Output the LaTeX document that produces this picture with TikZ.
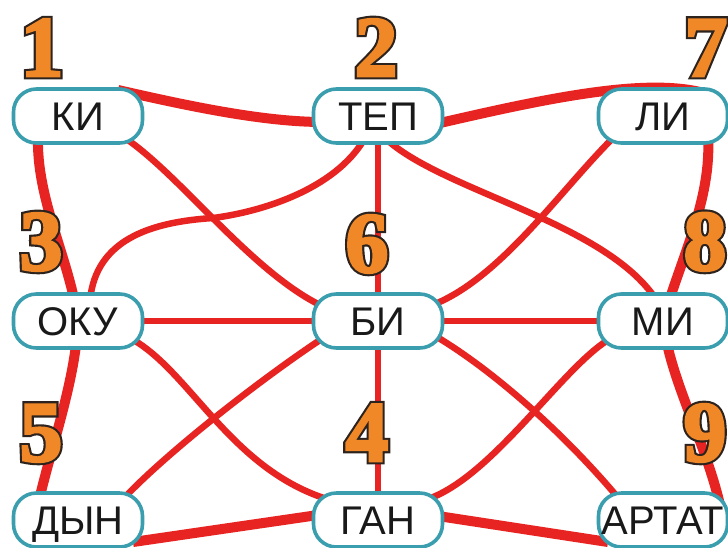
\documentclass[tikz,border=0pt]{standalone}
\usepackage{fontspec}
\setmainfont{Liberation Sans}
\newfontfamily\numdark{Liberation Serif}[UprightFont={* Bold}, FakeBold=8]
\newfontfamily\numfill{Liberation Serif}[UprightFont={* Bold}, FakeBold=3]
\definecolor{lred}{RGB}{232,36,34}
\definecolor{lteal}{RGB}{58,158,174}
\definecolor{lorange}{RGB}{240,136,40}
\definecolor{ldark}{RGB}{45,35,30}
\definecolor{ltext}{RGB}{25,25,25}
\pgfdeclarelayer{bg}
\pgfsetlayers{bg,main}
\newcommand\olnum[1]{\rlap{\numdark\textcolor{ldark}{#1}}\numfill\textcolor{lorange}{#1}}
\begin{document}
\begin{tikzpicture}[x=1pt,y=-1pt,
  word/.style={draw=lteal, line width=3.6pt, fill=white, rounded corners=23pt,
    minimum width=129pt, minimum height=54pt, inner sep=0pt,
    text height=28pt, text depth=0pt, font=\fontsize{40}{40}\selectfont, text=ltext},
  numlabel/.style={inner sep=0pt, text height=58pt, text depth=0pt,
    font=\fontsize{86}{86}\selectfont},
  thinline/.style={draw=lred, line width=6.5pt},
  thickline/.style={draw=lred, line width=10pt},
]
\useasboundingbox (0,0) rectangle (728,547);

% word nodes
\node[word] (KI)  at (78,116)  {КИ};
\node[word] (TEP) at (378,116) {ТЕП};
\node[word] (LI)  at (663,116) {ЛИ};
\node[word] (OKU) at (78,321)  {ОКУ};
\node[word] (BI)  at (378,321) {БИ};
\node[word] (MI)  at (663,321) {МИ};
\node[word] (DYN) at (78,520)  {ДЫН};
\node[word] (GAN) at (378,520) {ГАН};
\node[word] (ART) at (663,520) {АРТАТ};

% connectors
\begin{pgfonlayer}{bg}
\fill[white] (0,0) rectangle (728,547);
% outer thick lines
\draw[thickline] ([shift={(40,-26)}]KI.center) .. controls +(62,14) and +(-63,0) .. ([shift={(-55,6)}]TEP.center);
\draw[thickline] ([shift={(62,7)}]TEP.center) .. controls +(100,-23) and +(-60,-14) .. ([shift={(37,-24)}]LI.center);
\draw[thickline] ([shift={(-40,20)}]KI.center) .. controls +(-2,64) and +(-8,-61) .. (OKU.center);
\draw[thickline] (OKU.center) .. controls +(-2,59) and +(12,-55) .. ([shift={(-40,-15)}]DYN.center);
\draw[thickline] ([shift={(45,20)}]LI.center) .. controls +(4,64) and +(17,-61) .. (MI.center);
\draw[thickline] (MI.center) .. controls +(7,59) and +(-15,-65) .. ([shift={(57,-15)}]ART.center);
\draw[thickline] ([shift={(55,22)}]DYN.center) -- ([shift={(-60,-5)}]GAN.center);
\draw[thickline] ([shift={(60,-4)}]GAN.center) -- ([shift={(-55,22)}]ART.center);
% inner lines
\draw[thinline] ([shift={(47,22)}]KI.center) .. controls +(55,37) and +(-70,-35) .. ([shift={(-58,-16)}]BI.center);
\draw[thinline] ([shift={(-13,22)}]TEP.center) .. controls +(-30,52) and +(47,-6) .. (213,218)
   .. controls +(-63,4) and +(6,-60) .. ([shift={(12,-21)}]OKU.center);
\draw[thinline] (TEP.center) -- (BI.center);
\draw[thinline] ([shift={(7,22)}]TEP.center) .. controls +(55,52) and +(-55,-75) .. ([shift={(-10,-26)}]MI.center);
\draw[thinline] ([shift={(-48,20)}]LI.center) .. controls +(-55,54) and +(70,-26) .. ([shift={(52,-15)}]BI.center);
\draw[thinline] (OKU.center) -- (BI.center);
\draw[thinline] (BI.center) -- (MI.center);
\draw[thinline] ([shift={(52,17)}]OKU.center) .. controls +(60,32) and +(-100,-30) .. ([shift={(-48,-20)}]GAN.center);
\draw[thinline] ([shift={(-58,19)}]BI.center) .. controls +(-60,40) and +(45,-47) .. ([shift={(47,-23)}]DYN.center);
\draw[thinline] (BI.center) -- (GAN.center);
\draw[thinline] ([shift={(59,16)}]BI.center) .. controls +(63,38) and +(-50,-60) .. ([shift={(-43,-20)}]ART.center);
\draw[thinline] ([shift={(-55,19)}]MI.center) .. controls +(-48,30) and +(65,-20) .. ([shift={(47,-20)}]GAN.center);
\end{pgfonlayer}

% numbers
\node[numlabel] (n1) at (42,47)   {\olnum{1}};
\node[numlabel] (n2) at (376,47)  {\olnum{2}};
\node[numlabel] (n7) at (706,47)  {\olnum{7}};
\node[numlabel] (n3) at (41,241)  {\olnum{3}};
\node[numlabel] (n6) at (367,243) {\olnum{6}};
\node[numlabel] (n8) at (705,241) {\olnum{8}};
\node[numlabel] (n5) at (41,432)  {\olnum{5}};
\node[numlabel] (n4) at (367,432) {\olnum{4}};
\node[numlabel] (n9) at (705,432) {\olnum{9}};
\end{tikzpicture}
\end{document}
